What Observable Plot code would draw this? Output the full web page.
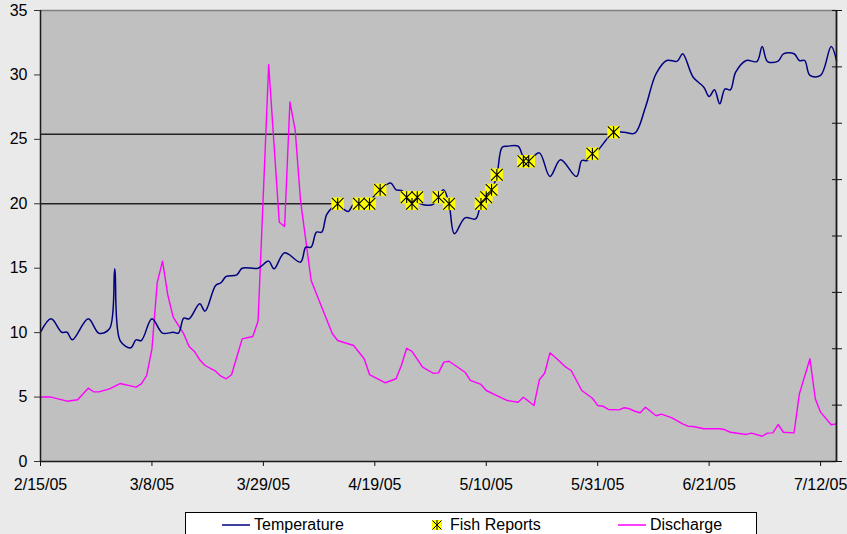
<!DOCTYPE html>
<html>
<head>
<meta charset="utf-8">
<script src="https://cdn.jsdelivr.net/npm/d3@7"></script>
<script src="https://cdn.jsdelivr.net/npm/@observablehq/plot@0.6"></script>
<style>
  html, body { margin: 0; padding: 0; background: #eaeaea; }
  body { font-family: "Liberation Sans", Arial, sans-serif; }
  #wrap { position: relative; width: 847px; height: 534px; overflow: hidden; background: #eaeaea; }
  #legend { position: absolute; left: 185px; top: 512px; width: 570px; height: 30px; background: #fff; border: 1px solid #000; font-size: 16px; color: #000; }
  .item { position: absolute; top: 3px; display: flex; align-items: center; height: 18px; white-space: nowrap; }
  .item svg { display: block; margin-right: 4px; }
</style>
</head>
<body>
<div id="wrap">
  <div id="chart"></div>
  <div id="legend"></div>
</div>
<script>
// ---------- data ----------
const YEAR = 2005;
const xDomainDates = ["2/15", "7/15"];
const xTickDates = ["2/15", "3/8", "3/29", "4/19", "5/10", "5/31", "6/21", "7/12"];
const yTicks = [0, 5, 10, 15, 20, 25, 30, 35];
const yMax = 35;
const secondaryMax = 80;
const secondaryStep = 10;

const tempDates = ["2/15","2/17","2/19","2/20","2/21","2/24","2/26","2/28","3/1","3/2","3/4","3/5","3/6","3/8","3/10","3/12","3/13","3/14","3/15","3/17","3/18","3/20","3/21","3/22","3/24","3/25","3/28","3/30","3/31","4/2","4/5","4/6","4/7","4/8","4/9","4/10","4/12","4/13","4/14","4/15","4/17","4/19","4/20","4/22","4/23","4/24","4/26","4/28","4/30","5/1","5/2","5/3","5/4","5/6","5/8","5/9","5/10","5/11","5/12","5/13","5/14","5/16","5/17","5/18","5/20","5/22","5/24","5/27","5/28","5/29","5/30","5/31","6/2","6/3","6/5","6/7","6/9","6/11","6/13","6/15","6/16","6/18","6/20","6/21","6/22","6/23","6/24","6/25","6/26","6/28","6/30","7/1","7/2","7/4","7/5","7/7","7/8","7/9","7/10","7/12","7/14","7/15"];
const tempValues = [10.03,11.07,10.03,10.03,9.44,11.07,9.96,10.3,14.95,9.39,8.82,9.44,9.39,11.07,9.96,10.03,9.96,11.12,11.07,12.24,11.67,13.66,13.87,14.36,14.49,15.0,15.0,15.55,14.95,16.2,15.47,16.63,16.63,17.8,17.8,19.22,19.95,19.61,19.4,19.95,19.95,20.64,21.08,21.62,21.08,21.03,20.39,19.95,19.95,20.64,21.08,19.95,17.67,18.91,18.83,20.0,20.51,21.08,22.2,24.39,24.47,24.47,23.62,23.36,23.95,22.12,23.41,22.12,23.36,23.36,23.88,24.14,25.17,25.56,25.56,25.48,27.5,30.09,31.12,31.07,31.64,29.82,29.05,28.33,28.85,27.76,28.92,28.85,30.21,31.12,31.04,32.2,31.04,31.07,31.64,31.64,31.12,31.12,29.96,29.96,32.2,31.12];

const dischargeDates = ["2/15","2/17","2/20","2/22","2/24","2/25","2/26","2/28","3/2","3/5","3/6","3/7","3/8","3/9","3/10","3/11","3/12","3/14","3/15","3/16","3/17","3/18","3/20","3/21","3/22","3/23","3/25","3/27","3/28","3/30","3/31","4/1","4/2","4/3","4/4","4/5","4/7","4/9","4/11","4/12","4/15","4/17","4/18","4/21","4/23","4/24","4/25","4/26","4/28","4/30","5/1","5/2","5/3","5/6","5/7","5/9","5/10","5/12","5/14","5/16","5/17","5/19","5/20","5/21","5/22","5/23","5/25","5/26","5/28","5/30","5/31","6/1","6/2","6/4","6/5","6/6","6/7","6/8","6/9","6/11","6/12","6/14","6/16","6/17","6/18","6/20","6/23","6/24","6/25","6/27","6/28","6/29","7/1","7/2","7/3","7/4","7/5","7/7","7/8","7/10","7/11","7/12","7/14","7/15"];
const dischargeValues = [5.0,5.0,4.68,4.79,5.69,5.41,5.40,5.64,6.05,5.77,6.03,6.67,8.74,13.9,15.55,12.9,11.2,9.9,8.92,8.54,7.89,7.45,7.01,6.62,6.42,6.73,9.52,9.70,10.9,30.8,24.65,18.57,18.24,27.9,25.7,20.25,14.05,11.97,9.91,9.39,9.0,7.97,6.75,6.11,6.42,7.45,8.79,8.54,7.32,6.85,6.88,7.71,7.78,6.93,6.29,5.98,5.51,5.12,4.73,4.60,4.99,4.35,6.34,6.85,8.43,8.09,7.32,7.06,5.51,4.91,4.35,4.29,4.04,4.01,4.17,4.09,3.90,3.78,4.21,3.55,3.68,3.39,2.92,2.74,2.72,2.54,2.54,2.46,2.27,2.15,2.10,2.20,1.96,2.20,2.22,2.87,2.27,2.22,5.25,7.97,4.87,3.83,2.85,2.92];

const fishDates = ["4/12","4/16","4/18","4/20","4/25","4/26","4/27","5/1","5/3","5/9","5/10","5/11","5/12","5/17","5/18","5/30","6/3"];
const fishValues = [20.0,20.0,20.0,21.08,20.51,20.0,20.51,20.51,20.0,20.0,20.51,21.08,22.25,23.3,23.3,23.88,25.56];

const refLevels = [20.0, 25.4];
const refEndDates = ["4/12", "6/3"];

const legendLabels = ["Temperature", "Fish Reports", "Discharge"];

// ---------- build ----------
const parse = s => { const [m, d] = s.split("/").map(Number); return new Date(Date.UTC(YEAR, m - 1, d)); };
const x0 = parse(xDomainDates[0]), x1 = parse(xDomainDates[1]);
const temp = tempDates.map((d, i) => ({date: parse(d), value: tempValues[i]}));
const discharge = dischargeDates.map((d, i) => ({date: parse(d), value: dischargeValues[i]}));
const fish = fishDates.map((d, i) => ({date: parse(d), value: fishValues[i]}));
const refs = refLevels.map((v, i) => ({level: v, start: x0, end: parse(refEndDates[i])}));
const rightTicks = d3.range(0, secondaryMax + 1e-9, secondaryStep).map(v => v * yMax / secondaryMax);

const C_TEMP = "#000080", C_DIS = "#ff00ff", C_FISH = "#ffff00", C_BG = "#c0c0c0", C_AX = "#1a1a1a";

const asterisk = {
  draw(ctx, size) {
    const s = Math.sqrt(size) / 2;
    ctx.moveTo(-s, -s); ctx.lineTo(s, s);
    ctx.moveTo(-s, s); ctx.lineTo(s, -s);
    ctx.moveTo(0, -s); ctx.lineTo(0, s);
  }
};

const chart = Plot.plot({
  width: 847,
  height: 500,
  marginLeft: 40,
  marginRight: 11,
  marginTop: 10,
  marginBottom: 39,
  style: {background: "#eaeaea", fontFamily: "'Liberation Sans', Arial, sans-serif", fontSize: "16px", color: "#000"},
  x: {type: "utc", domain: [x0, x1]},
  y: {domain: [0, yMax]},
  marks: [
    Plot.frame({fill: C_BG, stroke: null}),
    Plot.ruleY(refs, {y: "level", x1: "start", x2: "end", stroke: "#222", strokeWidth: 1.4}),
    Plot.line(discharge, {x: "date", y: "value", stroke: C_DIS, strokeWidth: 1.4}),
    Plot.line(temp, {x: "date", y: "value", stroke: C_TEMP, strokeWidth: 1.5, curve: "catmull-rom"}),
    Plot.dot(fish, {x: "date", y: "value", symbol: "square", fill: C_FISH, stroke: null, r: 7.1}),
    Plot.dot(fish, {x: "date", y: "value", symbol: asterisk, fill: "none", stroke: "#000", strokeWidth: 1.1, r: 6.6}),
    Plot.ruleY([yMax], {stroke: "#808080", strokeWidth: 1.3}),
    Plot.ruleY([0], {stroke: C_AX, strokeWidth: 1.5}),
    Plot.ruleX([x0], {stroke: C_AX, strokeWidth: 1.5}),
    Plot.ruleX([x1], {stroke: C_AX, strokeWidth: 1.8}),
    Plot.axisY({ticks: yTicks, tickSize: 6, tickPadding: 7, label: null, stroke: "#333"}),
    Plot.axisY({anchor: "right", ticks: rightTicks, tickFormat: () => "", tickSize: 10, dx: -5, label: null, stroke: "#111"}),
    Plot.axisX({ticks: xTickDates.map(parse), tickFormat: d3.utcFormat("%-m/%-d/%y"), tickSize: 5, tickPadding: 12, label: null, stroke: "#111"})
  ]
});
document.getElementById("chart").appendChild(chart);

// ---------- legend ----------
const legend = document.getElementById("legend");
function lineSwatch(color) {
  return `<svg width="28" height="4"><line x1="0" x2="28" y1="2" y2="2" stroke="${color}" stroke-width="1.5"/></svg>`;
}
const fishSwatch = `<svg width="12" height="12" style="margin-right:7px"><rect x="1" y="1" width="10" height="10" fill="${C_FISH}"/><path d="M1.5,1.5L10.5,10.5M1.5,10.5L10.5,1.5M6,1L6,11" stroke="#000" stroke-width="1"/></svg>`;
const items = [
  {left: 36, html: lineSwatch(C_TEMP) + `<span>${legendLabels[0]}</span>`},
  {left: 245, html: fishSwatch + `<span>${legendLabels[1]}</span>`},
  {left: 432, html: lineSwatch(C_DIS) + `<span>${legendLabels[2]}</span>`}
];
for (const it of items) {
  const div = document.createElement("div");
  div.className = "item";
  div.style.left = it.left + "px";
  div.innerHTML = it.html;
  legend.appendChild(div);
}
</script>
</body>
</html>
